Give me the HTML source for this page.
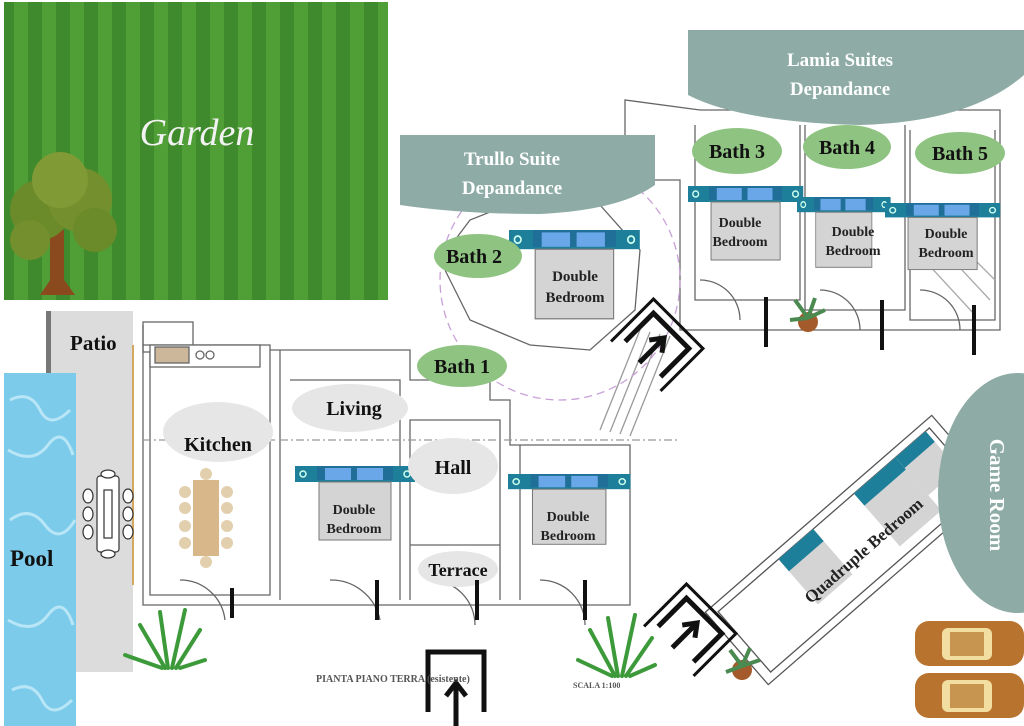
<!DOCTYPE html>
<html><head><meta charset="utf-8"><style>
html,body{margin:0;padding:0;background:#fff;}
svg{display:block}
text{font-family:"Liberation Serif",serif;font-weight:bold;}
</style></head><body>
<svg width="1024" height="726" viewBox="0 0 1024 726" xmlns="http://www.w3.org/2000/svg">
<defs>
<pattern id="stripes" width="28" height="20" patternUnits="userSpaceOnUse">
<rect width="14" height="20" fill="#3f8a2c"/><rect x="14" width="14" height="20" fill="#4f9e36"/>
</pattern>
<g id="bed">
<rect x="0" y="0" width="120" height="16" fill="#1e7f9a"/>
<circle cx="8" cy="8" r="3" fill="none" stroke="#cfe" stroke-width="1.5"/>
<circle cx="112" cy="8" r="3" fill="none" stroke="#cfe" stroke-width="1.5"/>
<rect x="22" y="0" width="76" height="14" fill="#1f6f98"/>
<rect x="30" y="2" width="26" height="12" fill="#6aa7e8"/>
<rect x="62" y="2" width="26" height="12" fill="#6aa7e8"/>
<rect x="24" y="16" width="72" height="58" fill="#d4d4d4" stroke="#777"/>
</g>
</defs>

<!-- garden -->
<rect x="4" y="2" width="384" height="298" fill="url(#stripes)"/>
<text x="197" y="145" fill="#f2f2f2" font-size="38" text-anchor="middle" style="font-family:'Liberation Serif',serif;font-style:italic;font-weight:normal">Garden</text>
<g>
<rect x="50" y="230" width="14" height="60" fill="#8b4a1e"/>
<path d="M40 295 L57 270 L75 295Z" fill="#8b4a1e"/>
<circle cx="40" cy="210" r="30" fill="#6b8a2a"/><circle cx="80" cy="200" r="32" fill="#748f2d"/>
<circle cx="60" cy="180" r="28" fill="#809a35"/><circle cx="95" cy="230" r="22" fill="#6b8a2a"/>
<circle cx="30" cy="240" r="20" fill="#748f2d"/>
</g>

<!-- patio & pool -->
<rect x="46" y="311" width="87" height="361" fill="#dcdcdc"/>
<rect x="46" y="311" width="5" height="62" fill="#777"/>
<line x1="133" y1="345" x2="133" y2="585" stroke="#d4a860" stroke-width="2"/>
<rect x="4" y="373" width="72" height="353" fill="#7ccbea"/>
<path d="M10 400 q20 -10 30 10 t30 0 M8 450 q25 15 40 -5 t25 10 M10 520 q20 -15 35 5 t30 -5 M8 620 q25 15 40 -5 t25 10 M12 690 q20 -10 30 10 t30 0" stroke="#b8e6f7" stroke-width="3" fill="none"/>
<text x="70" y="350" font-size="21" fill="#111">Patio</text>
<text x="10" y="566" font-size="23" fill="#111">Pool</text>
<g fill="#fff" stroke="#333" stroke-width="1.2">
<rect x="97" y="476" width="22" height="76" rx="3"/>
<rect x="104" y="490" width="8" height="48"/>
<ellipse cx="108" cy="474" rx="7" ry="4"/><ellipse cx="108" cy="554" rx="7" ry="4"/>
<ellipse cx="88" cy="496" rx="5" ry="7"/><ellipse cx="88" cy="514" rx="5" ry="7"/><ellipse cx="88" cy="532" rx="5" ry="7"/>
<ellipse cx="128" cy="496" rx="5" ry="7"/><ellipse cx="128" cy="514" rx="5" ry="7"/><ellipse cx="128" cy="532" rx="5" ry="7"/>
</g>

<!-- floor plan lines -->
<g fill="none" stroke="#666" stroke-width="1.3">
<rect x="143" y="322" width="50" height="30"/>
<path d="M143 325 V605 H630 V445 H510 V400 H490 V380 H410 V350 H270 V345 H143"/>
<path d="M150 350 V595 H270 V350"/>
<path d="M280 350 V600 M290 380 H400 V600 M410 420 H500 V545 H410 Z M410 545 V600 M500 545 V600 M520 445 V600"/>
<path d="M280 440 H680 M143 440 H275" stroke-dasharray="8 3 2 3" stroke="#999"/>
<path d="M600 430 L640 330 M610 432 L650 332 M620 434 L660 334 M630 436 L670 336" stroke="#999"/>
<path d="M625 140 V100 L700 110 H1000 V330 H680 V180 H640 Z"/>
<path d="M695 125 V300 H800 V125 M805 125 V310 H905 V125 M910 130 V320 H995 V130"/>
<path d="M920 225 L990 300 M930 215 L995 280 M915 250 L975 315" stroke="#aaa"/>
<path d="M470 320 L440 260 L470 220 L520 200 L600 205 L640 250 L635 310 L590 350 L530 345 Z"/>
<circle cx="560" cy="280" r="120" stroke="#c9a0d8" stroke-dasharray="8 5"/>
<rect x="150" y="345" width="110" height="22" fill="#fff"/>
<rect x="155" y="347" width="34" height="16" fill="#cdb79a"/>
<circle cx="200" cy="355" r="4"/><circle cx="210" cy="355" r="4"/>
<path d="M330 580 a50 50 0 0 1 50 40 M180 580 a45 45 0 0 1 45 40 M430 580 a45 45 0 0 1 45 45 M540 580 a45 45 0 0 1 45 45 M700 280 a40 40 0 0 1 40 40 M820 290 a40 40 0 0 1 40 40 M920 290 a40 40 0 0 1 40 40"/>
</g>
<g transform="translate(850,550) rotate(-41)" fill="none" stroke="#555" stroke-width="1.3">
<rect x="-150" y="-48" width="300" height="96"/>
<rect x="-140" y="-40" width="280" height="80"/>
<rect x="-60" y="-40" width="46" height="60" fill="#d4d4d4" stroke="none"/>
<rect x="-60" y="-40" width="46" height="16" fill="#1e7f9a" stroke="none"/>
<rect x="40" y="-40" width="55" height="70" fill="#d4d4d4" stroke="none"/>
<rect x="40" y="-40" width="55" height="16" fill="#1e7f9a" stroke="none"/>
<rect x="95" y="-40" width="40" height="50" fill="#d4d4d4" stroke="none"/>
<rect x="95" y="-40" width="40" height="14" fill="#1e7f9a" stroke="none"/>
<text x="10" y="15" font-size="17" fill="#222" stroke="none" text-anchor="middle">Quadruple Bedroom</text>
</g>

<!-- kitchen table -->
<g fill="#e2cfae">
<rect x="193" y="480" width="26" height="76" fill="#d8b88a"/>
<circle cx="206" cy="474" r="6"/><circle cx="206" cy="562" r="6"/>
<circle cx="185" cy="492" r="6"/><circle cx="185" cy="508" r="6"/><circle cx="185" cy="526" r="6"/><circle cx="185" cy="543" r="6"/>
<circle cx="227" cy="492" r="6"/><circle cx="227" cy="508" r="6"/><circle cx="227" cy="526" r="6"/><circle cx="227" cy="543" r="6"/>
</g>

<!-- teal overlays -->
<path d="M688 30 H1024 V75 Q970 122 860 125 Q740 122 688 95 Z" fill="#8eaca5"/>
<text x="840" y="66" font-size="19" fill="#fff" text-anchor="middle">Lamia Suites</text>
<text x="840" y="95" font-size="19" fill="#fff" text-anchor="middle">Depandance</text>
<path d="M400 135 H655 V185 Q620 210 540 214 Q460 214 400 205 Z" fill="#8eaca5"/>
<text x="512" y="165" font-size="19" fill="#fff" text-anchor="middle">Trullo Suite</text>
<text x="512" y="194" font-size="19" fill="#fff" text-anchor="middle">Depandance</text>
<ellipse cx="1018" cy="493" rx="80" ry="120" fill="#8eaca5"/>
<text transform="translate(990,495) rotate(90)" font-size="21" fill="#fff" text-anchor="middle">Game Room</text>

<!-- beds -->
<use href="#bed" transform="translate(295,466)"/>
<use href="#bed" transform="translate(508,474) scale(1.02,0.95)"/>
<use href="#bed" transform="translate(509,230) scale(1.09,1.2)"/>
<use href="#bed" transform="translate(688,186) scale(0.96,1.0)"/>
<use href="#bed" transform="translate(797,197) scale(0.78,0.95)"/>
<use href="#bed" transform="translate(885,203) scale(0.96,0.9)"/>
<g font-size="14" fill="#222" text-anchor="middle">
<text x="354" y="514">Double</text><text x="354" y="533">Bedroom</text>
<text x="568" y="521">Double</text><text x="568" y="540">Bedroom</text>
<text x="575" y="281" font-size="15">Double</text><text x="575" y="302" font-size="15">Bedroom</text>
<text x="740" y="227">Double</text><text x="740" y="246">Bedroom</text>
<text x="853" y="236">Double</text><text x="853" y="255">Bedroom</text>
<text x="946" y="238">Double</text><text x="946" y="257">Bedroom</text>
</g>

<!-- label ellipses -->
<g fill="#e6e6e6">
<ellipse cx="218" cy="432" rx="55" ry="30"/>
<ellipse cx="350" cy="408" rx="58" ry="24"/>
<ellipse cx="453" cy="466" rx="45" ry="28"/>
<ellipse cx="458" cy="569" rx="40" ry="18"/>
</g>
<g fill="#8fc382">
<ellipse cx="462" cy="366" rx="45" ry="21"/>
<ellipse cx="478" cy="256" rx="44" ry="22"/>
<ellipse cx="737" cy="151" rx="45" ry="23"/>
<ellipse cx="847" cy="147" rx="44" ry="22"/>
<ellipse cx="960" cy="153" rx="45" ry="21"/>
</g>
<g font-size="20" fill="#111" text-anchor="middle">
<text x="218" y="451">Kitchen</text>
<text x="354" y="415">Living</text>
<text x="453" y="474">Hall</text>
<text x="458" y="576" font-size="18">Terrace</text>
<text x="462" y="373">Bath 1</text>
<text x="474" y="263">Bath 2</text>
<text x="737" y="158">Bath 3</text>
<text x="847" y="154">Bath 4</text>
<text x="960" y="160">Bath 5</text>
</g>

<!-- door bars -->
<g stroke="#111" stroke-width="4">
<line x1="232" y1="588" x2="232" y2="618"/><line x1="377" y1="580" x2="377" y2="620"/>
<line x1="477" y1="580" x2="477" y2="620"/><line x1="585" y1="580" x2="585" y2="620"/>
<line x1="766" y1="297" x2="766" y2="347"/><line x1="882" y1="300" x2="882" y2="350"/>
<line x1="974" y1="305" x2="974" y2="355"/>
</g>

<!-- entrance arrows -->
<g fill="none" stroke="#111" stroke-width="5">
<path d="M428 712 V652 H484 V712"/>
<path d="M456 726 V685 M446 696 L456 683 L466 696" />
<g transform="translate(690,630) rotate(45)"><path d="M-25 20 V-20 H25 V20"/><path d="M-35 30 V-30 H35 V30" stroke-width="3"/><path d="M0 25 V-8 M-9 2 L0 -10 L9 2"/></g>
<g transform="translate(657,345) rotate(45)"><path d="M-25 20 V-20 H25 V20"/><path d="M-35 30 V-30 H35 V30" stroke-width="3"/><path d="M0 25 V-8 M-9 2 L0 -10 L9 2"/></g>
</g>
<text x="316" y="682" font-size="10" font-weight="normal" fill="#555">PIANTA PIANO TERRA (esistente)</text>
<text x="573" y="688" font-size="8" font-weight="normal" fill="#555">SCALA 1:100</text>

<!-- plants -->
<g stroke="#3d9a3a" stroke-width="4" fill="none" stroke-linecap="round">
<path d="M165 668 L140 625 M168 668 L160 612 M172 668 L185 610 M176 668 L200 630 M162 668 L125 655 M180 668 L205 660"/>
<path d="M615 676 L590 630 M618 676 L608 618 M622 676 L635 615 M626 676 L652 638 M612 676 L578 660 M630 676 L655 665"/>
</g>
<g><circle cx="808" cy="322" r="10" fill="#a45a2a"/><path d="M808 318 L795 300 M808 318 L815 298 M808 318 L825 310 M808 318 L790 320" stroke="#4a8a50" stroke-width="4"/></g>
<g><circle cx="742" cy="670" r="10" fill="#a45a2a"/><path d="M742 666 L730 650 M742 666 L750 648 M742 666 L760 660 M742 666 L726 672" stroke="#4a8a50" stroke-width="4"/></g>

<!-- cars -->
<g>
<rect x="915" y="621" width="109" height="45" rx="14" fill="#b8732f"/>
<rect x="942" y="628" width="50" height="32" rx="6" fill="#f2dea0"/>
<rect x="950" y="632" width="34" height="24" fill="#c89550"/>
<rect x="915" y="673" width="109" height="45" rx="14" fill="#b8732f"/>
<rect x="942" y="680" width="50" height="32" rx="6" fill="#f2dea0"/>
<rect x="950" y="684" width="34" height="24" fill="#c89550"/>
</g>
</svg>
</body></html>
